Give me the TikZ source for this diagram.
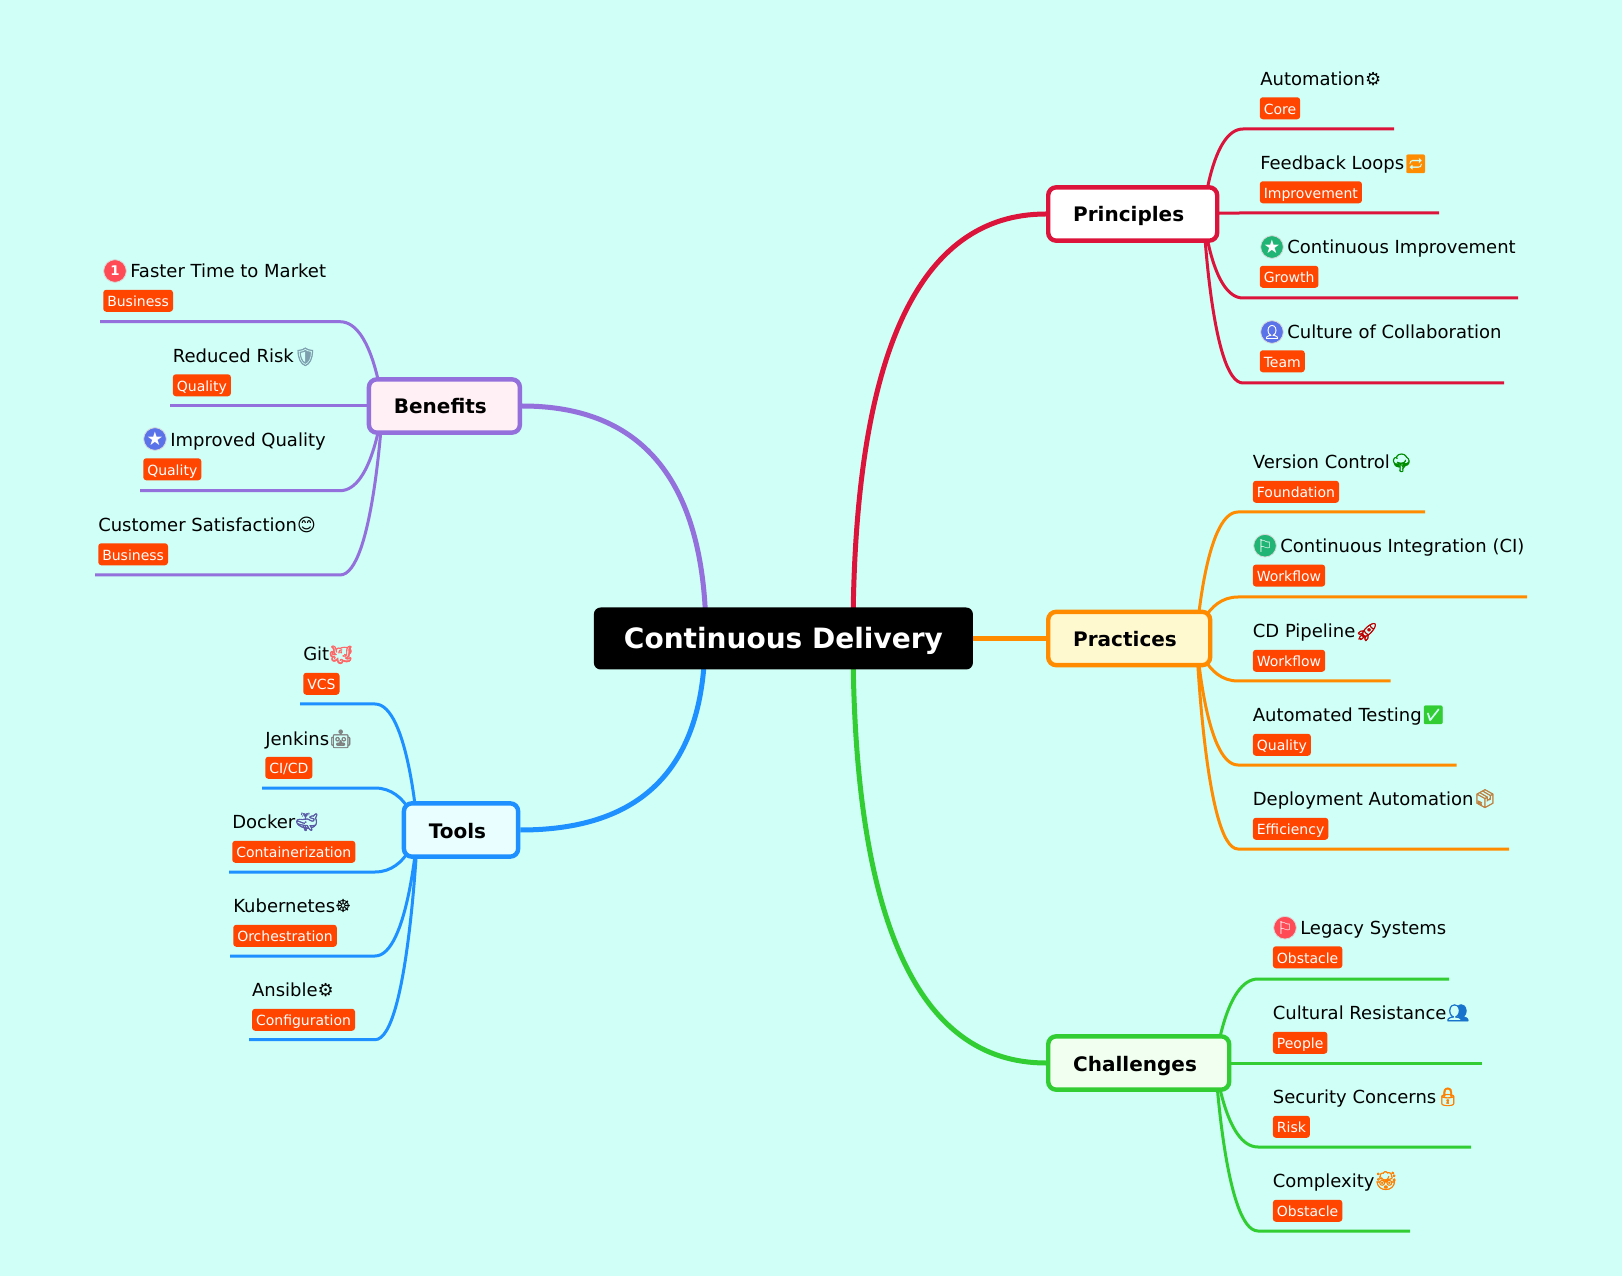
\documentclass[tikz,border=0pt]{standalone}
\usepackage{fontspec}
\setmainfont{DejaVu Sans}
\newfontfamily\emojifont[FakeBold=2]{Noto Emoji}
\usetikzlibrary{calc}
\usetikzlibrary{backgrounds}
\definecolor{paper}{HTML}{CFFFF7}
\definecolor{crimsonline}{HTML}{DC143C}
\definecolor{orangeline}{HTML}{FF8C00}
\definecolor{limeline}{HTML}{32CD32}
\definecolor{purpleline}{HTML}{9370DB}
\definecolor{blueline}{HTML}{1E90FF}
\definecolor{tagred}{HTML}{FF4500}
\definecolor{icongreen}{HTML}{20B574}
\definecolor{iconblue}{HTML}{5B73E8}
\definecolor{iconred}{HTML}{FF4B55}
\definecolor{practicefill}{HTML}{FFF9CF}
\definecolor{challengefill}{HTML}{F0FFF0}
\definecolor{benefitfill}{HTML}{FFF0F5}
\definecolor{toolfill}{HTML}{E8FEFF}
\newcommand{\emoji}[2]{{\color{#1}\emojifont #2}}
\tikzset{
	topic/.style={draw,line width=3.3pt,rounded corners=6pt,anchor=west,inner xsep=18.75pt,inner ysep=0pt,minimum height=40pt,text height=14pt,text depth=2pt,align=left,font=\fontsize{15pt}{18pt}\selectfont\bfseries},
	leaf/.style={anchor=base west,inner sep=0pt,font=\fontsize{13.5pt}{16pt}\selectfont},
	tagbox/.style={anchor=north west,fill=tagred,text=white,rounded corners=2.25pt,inner xsep=3pt,inner ysep=0pt,minimum height=16.5pt,text height=11pt,text depth=2pt,font=\fontsize{10.5pt}{12pt}\selectfont},
	iconbox/.style={circle,draw=white!85!black,line width=0.6pt,minimum size=17pt,inner sep=0pt,text=white},
	twig/.style={line width=2.25pt},
	limb/.style={line width=3.75pt}
}
\begin{document}
\begin{tikzpicture}[x=0.75pt,y=-0.75pt]
	\useasboundingbox (0,0) rectangle (1622,1276);
	\node[fill=black,text=white,rounded corners=5pt,inner sep=0pt,minimum width=284.25pt,minimum height=46.5pt,text height=19pt,text depth=4.4pt,font=\fontsize{21pt}{25pt}\selectfont\bfseries] (root) at (783.4,638.5) {Continuous Delivery};

	\node[topic,draw=crimsonline,fill=white,text width=89.25pt] (principles) at (1046,214) {Principles};
	\node[topic,draw=orangeline,fill=practicefill,text width=84pt] (practices) at (1046,638.5) {Practices};
	\node[topic,draw=limeline,fill=challengefill,text width=98.25pt] (challenges) at (1046,1063) {Challenges};
	\node[topic,draw=purpleline,fill=benefitfill,text width=75.75pt] (benefits) at (366.7,406) {Benefits};
	\node[topic,draw=blueline,fill=toolfill,text width=48.2pt] (tools) at (401.7,830) {Tools};

	\coordinate (prhub) at ($(principles.east)+(-16,0)$);
	\coordinate (pchub) at ($(practices.east)+(-16,0)$);
	\coordinate (chhub) at ($(challenges.east)+(-16,0)$);
	\coordinate (behub) at ($(benefits.west)+(16,0)$);
	\coordinate (tohub) at ($(tools.west)+(16,0)$);

	\node[leaf] (automation) at (1260,86) {Automation⚙};
	\node[tagbox] (coretag) at (1259.5,97) {Core};
	\coordinate (automationend) at (1394,129);
	\node[leaf] (feedback) at (1260,170) {Feedback Loops\emoji{orangeline}{🔁}};
	\node[tagbox] (improvementtag) at (1259.5,181) {Improvement};
	\coordinate (feedbackend) at (1439,213);
	\node[iconbox,fill=icongreen] (growthicon) at (1272,247) {\fontsize{14pt}{14pt}\selectfont ★};
	\node[leaf] (improvement) at (1287,254) {Continuous Improvement};
	\node[tagbox] (growthtag) at (1259.5,265.5) {Growth};
	\coordinate (improvementend) at (1518,298);
	\node[iconbox,fill=iconblue] (teamicon) at (1272,332) {\fontsize{10pt}{10pt}\selectfont\emojifont 👤};
	\node[leaf] (culture) at (1287,339) {Culture of Collaboration};
	\node[tagbox] (teamtag) at (1259.5,350) {Team};
	\coordinate (cultureend) at (1504,383);

	\node[leaf] (version) at (1252.6,469) {Version Control\emoji{green!55!black}{🌳}};
	\node[tagbox] (foundationtag) at (1252.6,480.5) {Foundation};
	\coordinate (versionend) at (1425,512);
	\node[iconbox,fill=icongreen] (ciicon) at (1265,545.7) {\fontsize{13pt}{13pt}\selectfont ⚐};
	\node[leaf] (integration) at (1280,553) {Continuous Integration (CI)};
	\node[tagbox] (workflowtag) at (1252.6,564.3) {Workflow};
	\coordinate (integrationend) at (1527,597);
	\node[leaf] (pipeline) at (1252.6,638) {CD Pipeline\emoji{red!75!black}{🚀}};
	\node[tagbox] (pipelinetag) at (1252.6,649.5) {Workflow};
	\coordinate (pipelineend) at (1390.7,681);
	\node[leaf] (testing) at (1252.6,721) {Automated Testing\emoji{limeline}{✅}};
	\node[tagbox] (qualitytag) at (1252.6,733.5) {Quality};
	\coordinate (testingend) at (1456.7,765);
	\node[leaf] (deployment) at (1252.6,805) {Deployment Automation\emoji{brown}{📦}};
	\node[tagbox] (efficiencytag) at (1252.6,817.5) {Efficiency};
	\coordinate (deploymentend) at (1509,849);

	\node[iconbox,fill=iconred] (legacyicon) at (1285,927.7) {\fontsize{13pt}{13pt}\selectfont ⚐};
	\node[leaf] (legacy) at (1300,934) {Legacy Systems};
	\node[tagbox] (obstacletag) at (1272.6,946) {Obstacle};
	\coordinate (legacyend) at (1449,979);
	\node[leaf] (resistance) at (1272.6,1019) {Cultural Resistance\emoji{blueline!80!black}{👥}};
	\node[tagbox] (peopletag) at (1272.6,1031.5) {People};
	\coordinate (resistanceend) at (1482,1063);
	\node[leaf] (security) at (1272.6,1103) {Security Concerns\emoji{orange}{🔒}};
	\node[tagbox] (risktag) at (1272.6,1115.5) {Risk};
	\coordinate (securityend) at (1471,1147);
	\node[leaf] (complexity) at (1272.6,1187) {Complexity\emoji{orange}{🤯}};
	\node[tagbox] (complexitytag) at (1272.6,1199.5) {Obstacle};
	\coordinate (complexityend) at (1410,1231);

	\node[iconbox,fill=iconred] (marketicon) at (115,271) {\fontsize{10pt}{10pt}\selectfont\bfseries 1};
	\node[leaf] (market) at (130,278) {Faster Time to Market};
	\node[tagbox] (businesstag) at (103,289.5) {Business};
	\coordinate (marketend) at (100,321.7);
	\node[leaf] (risk) at (172.6,363) {Reduced Risk\emoji{gray!70!cyan}{🛡}};
	\node[tagbox] (reducedtag) at (172.6,374) {Quality};
	\coordinate (riskend) at (170,406);
	\node[iconbox,fill=iconblue] (qualityicon) at (155,439) {\fontsize{14pt}{14pt}\selectfont ★};
	\node[leaf] (quality) at (170,447) {Improved Quality};
	\node[tagbox] (improvedtag) at (143,458) {Quality};
	\coordinate (qualityend) at (140,490.7);
	\node[leaf] (satisfaction) at (98,532) {Customer Satisfaction😊};
	\node[tagbox] (customertag) at (98,543) {Business};
	\coordinate (satisfactionend) at (95,575);

	\node[leaf] (git) at (303,661) {Git\emoji{red!60!white}{🐙}};
	\node[tagbox] (vcstag) at (303,672.5) {VCS};
	\coordinate (gitend) at (300,704);
	\node[leaf] (jenkins) at (265,745) {Jenkins\emoji{gray}{🤖}};
	\node[tagbox] (cicdtag) at (265,756.5) {CI/CD};
	\coordinate (jenkinsend) at (262,788);
	\node[leaf] (docker) at (232,828) {Docker\emoji{gray!70!blue}{🐳}};
	\node[tagbox] (containertag) at (232,840.5) {Containerization};
	\coordinate (dockerend) at (229,872);
	\node[leaf] (kubernetes) at (233,912) {Kubernetes☸};
	\node[tagbox] (orchestrationtag) at (233,924.5) {Orchestration};
	\coordinate (kubernetesend) at (230,956);
	\node[leaf] (ansible) at (251.8,996) {Ansible⚙};
	\node[tagbox] (configurationtag) at (251.8,1008.5) {Configuration};
	\coordinate (ansibleend) at (249,1039.7);

	\begin{scope}[on background layer]
		\fill[paper] (0,0) rectangle (1622,1276);
		\draw[limb,crimsonline] (853,638) .. controls (853,355) and (918,214) .. (principles.west);
		\draw[limb,limeline] (853,638) .. controls (853,921) and (918,1063) .. (challenges.west);
		\draw[limb,orangeline] (root.east) -- (practices.west);
		\draw[limb,purpleline] (706,638) .. controls (706,483) and (644,406) .. (benefits.east);
		\draw[limb,blueline] (705,638) .. controls (705,766) and (644,830) .. (tools.east);

		\draw[twig,crimsonline] (prhub) .. controls (prhub) and (1211.5,129) .. (1243,129) -- (automationend);
		\draw[twig,crimsonline] (prhub) .. controls (prhub) and (1211.5,213) .. (1243,213) -- (feedbackend);
		\draw[twig,crimsonline] (prhub) .. controls (prhub) and (1211.5,298) .. (1243,298) -- (improvementend);
		\draw[twig,crimsonline] (prhub) .. controls (prhub) and (1211.5,383) .. (1243,383) -- (cultureend);

		\draw[twig,orangeline] (pchub) .. controls (pchub) and (1205,512) .. (1238,512) -- (versionend);
		\draw[twig,orangeline] (pchub) .. controls (pchub) and (1205,597) .. (1238,597) -- (integrationend);
		\draw[twig,orangeline] (pchub) .. controls (pchub) and (1205,681) .. (1238,681) -- (pipelineend);
		\draw[twig,orangeline] (pchub) .. controls (pchub) and (1205,765) .. (1238,765) -- (testingend);
		\draw[twig,orangeline] (pchub) .. controls (pchub) and (1205,849) .. (1238,849) -- (deploymentend);

		\draw[twig,limeline] (chhub) .. controls (chhub) and (1225,979) .. (1258,979) -- (legacyend);
		\draw[twig,limeline] (chhub) .. controls (chhub) and (1225,1063) .. (1258,1063) -- (resistanceend);
		\draw[twig,limeline] (chhub) .. controls (chhub) and (1225,1147) .. (1258,1147) -- (securityend);
		\draw[twig,limeline] (chhub) .. controls (chhub) and (1225,1231) .. (1258,1231) -- (complexityend);

		\draw[twig,purpleline] (behub) .. controls (behub) and (373.3,321.7) .. (340,321.7) -- (marketend);
		\draw[twig,purpleline] (behub) .. controls (behub) and (373.3,406) .. (340,406) -- (riskend);
		\draw[twig,purpleline] (behub) .. controls (behub) and (373.3,490.7) .. (340,490.7) -- (qualityend);
		\draw[twig,purpleline] (behub) .. controls (behub) and (373.3,575) .. (340,575) -- (satisfactionend);

		\draw[twig,blueline] (tohub) .. controls (tohub) and (408.3,704) .. (375,704) -- (gitend);
		\draw[twig,blueline] (tohub) .. controls (tohub) and (408.3,788) .. (375,788) -- (jenkinsend);
		\draw[twig,blueline] (tohub) .. controls (tohub) and (408.3,872) .. (375,872) -- (dockerend);
		\draw[twig,blueline] (tohub) .. controls (tohub) and (408.3,956) .. (375,956) -- (kubernetesend);
		\draw[twig,blueline] (tohub) .. controls (tohub) and (408.3,1039.7) .. (375,1039.7) -- (ansibleend);
	\end{scope}
\end{tikzpicture}
\end{document}
